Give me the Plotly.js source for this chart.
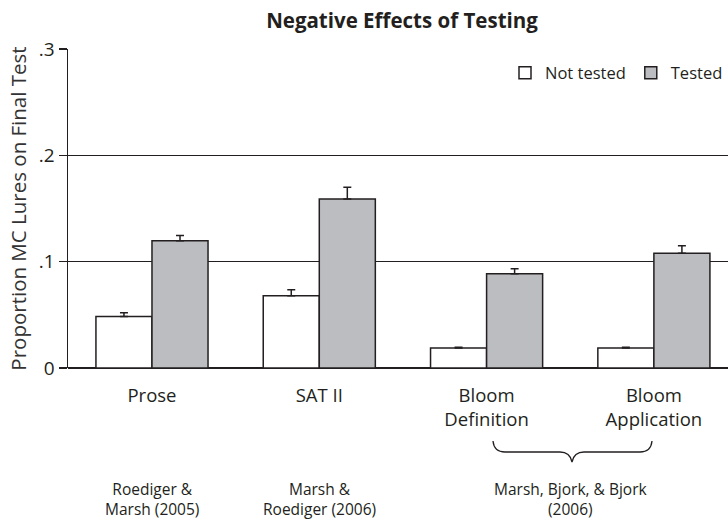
<!DOCTYPE html>
<html><head><meta charset="utf-8">
<script src="https://cdn.plot.ly/plotly-3.0.1.min.js"></script>
<style>html,body{margin:0;padding:0;background:#fff;}#chart{width:728px;height:519px;}</style>
</head><body><div id="chart"></div>
<script>
const categories = ["Prose", "SAT II", "Bloom Definition", "Bloom Application"];
const tickLabels = ["Prose", "SAT II", "Bloom<br>Definition", "Bloom<br>Application"];
const notTested = [0.0485, 0.068, 0.0188, 0.0188];
const notTestedErr = [0.0035, 0.0057, 0.0008, 0.0008];
const tested = [0.1197, 0.159, 0.0887, 0.108];
const testedErr = [0.0048, 0.011, 0.0047, 0.007];
const yTickVals = [0, 0.1, 0.2, 0.3];
const yTickText = ["0", ".1", ".2", ".3"];
const citations = ["Roediger &<br>Marsh (2005)", "Marsh &<br>Roediger (2006)", "Marsh, Bjork, & Bjork<br>(2006)"];
const citationPos = [0, 1, 2.5];

const FONT = "'Open Sans', 'Noto Sans', sans-serif";
const ink = "#231f20";

const errStyle = {type: "data", symmetric: false, arrayminus: [0,0,0,0], color: ink, thickness: 1.5, width: 4};

const traces = [
  {type: "bar", name: "Not tested", x: categories, y: notTested,
   marker: {color: "#ffffff", line: {color: ink, width: 1.5}},
   error_y: Object.assign({}, errStyle, {array: notTestedErr})},
  {type: "bar", name: "Tested", x: categories, y: tested,
   marker: {color: "#bcbdc1", line: {color: ink, width: 1.5}},
   error_y: Object.assign({}, errStyle, {array: testedErr})}
];

// paper coordinate helpers (plot area in pixels)
const W = 728, H = 519, L = 68, R = 0, T = 49, B = 151;
const px = v => (v - L) / (W - L - R);
const py = v => (H - B - v) / (H - T - B);

const bracePath = [
  "M", px(493), py(441),
  "Q", px(494), py(452), px(505), py(452),
  "L", px(560), py(452),
  "Q", px(570), py(452), px(572), py(462),
  "Q", px(574), py(452), px(584), py(452),
  "L", px(640), py(452),
  "Q", px(651), py(452), px(652), py(441)
].join(" ");

const annotations = citations.map((t, i) => ({
  text: t, x: citationPos[i], xref: "x", y: py(499), yref: "paper", yanchor: "middle",
  showarrow: false, font: {family: FONT, size: 15.5, color: ink}
}));

const layout = {
  width: W, height: H,
  margin: {l: L, r: R, t: T, b: B},
  paper_bgcolor: "#fff", plot_bgcolor: "#fff",
  font: {family: FONT, color: ink},
  title: {text: "<b>Negative Effects of Testing</b>", x: 402 / W, xref: "container", xanchor: "center",
          y: 1 - 21 / H, yanchor: "middle", font: {family: FONT, size: 20.5, color: ink}},
  barmode: "group", bargap: 0.33, bargroupgap: 0,
  showlegend: true,
  legend: {orientation: "h", x: 1, xanchor: "right", y: py(73), yanchor: "middle",
           font: {family: FONT, size: 16.5, color: ink}, bgcolor: "rgba(0,0,0,0)", traceorder: "normal"},
  xaxis: {
    type: "category", range: [-0.502, 3.443], tickvals: categories, ticktext: tickLabels,
    showgrid: false, ticks: "", showline: false, zeroline: false,
    tickfont: {family: FONT, size: 18.5, color: ink}, ticklabelstandoff: 14, fixedrange: true
  },
  yaxis: {
    range: [0, 0.3], tickvals: yTickVals, ticktext: yTickText,
    showgrid: true, gridcolor: ink, gridwidth: 1.5,
    zeroline: true, zerolinecolor: ink, zerolinewidth: 1.5,
    showline: true, linecolor: ink, linewidth: 1.5,
    ticks: "outside", ticklen: 8, tickcolor: ink, tickwidth: 1.5,
    tickfont: {family: FONT, size: 19, color: ink},
    title: {text: "Proportion MC Lures on Final Test", font: {family: FONT, size: 20.5, color: "#333"}, standoff: 6},
    fixedrange: true
  },
  shapes: [{type: "path", xref: "paper", yref: "paper", path: bracePath, line: {color: ink, width: 1.3}}],
  annotations: annotations
};

Plotly.newPlot("chart", traces, layout, {displayModeBar: false, staticPlot: true});
</script>
</body></html>
